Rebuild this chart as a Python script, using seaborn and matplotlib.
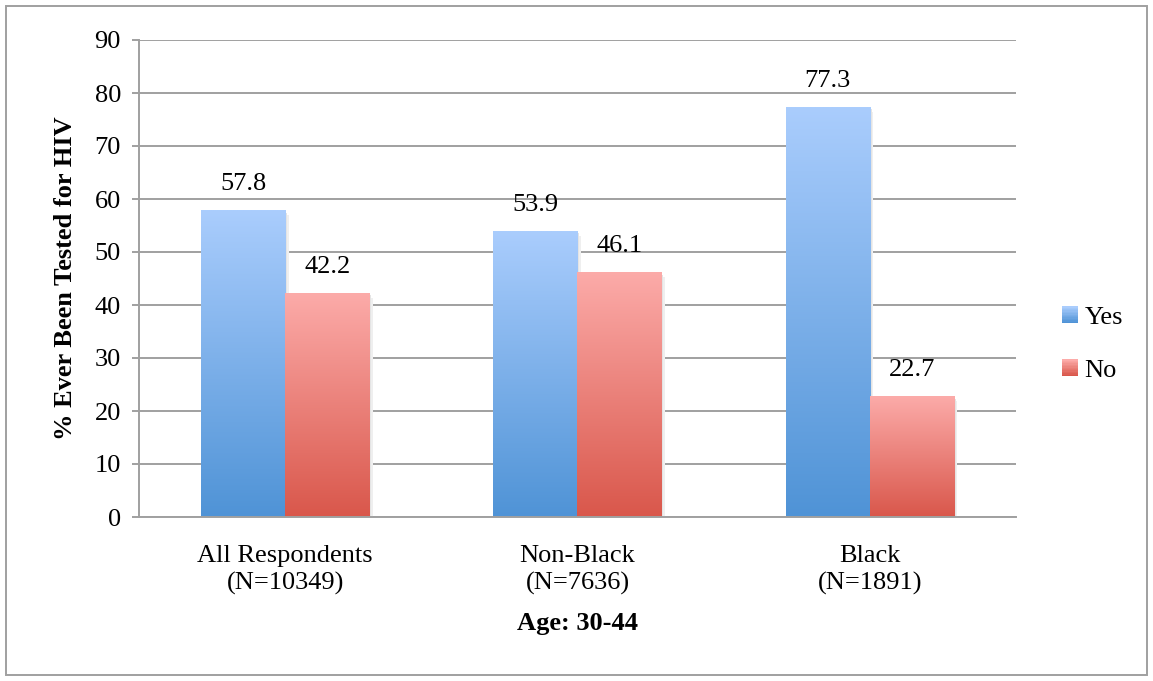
import matplotlib
matplotlib.use("Agg")
import matplotlib.pyplot as plt
import matplotlib.colors as mcolors
import numpy as np
import pandas as pd
import seaborn as sns
from matplotlib.legend_handler import HandlerPatch
from matplotlib.patches import Patch, Rectangle

groups = ["All Respondents\n(N=10349)", "Non-Black\n(N=7636)", "Black\n(N=1891)"]
answers = ["Yes", "No"]
yes_pct = [57.8, 53.9, 77.3]
no_pct = [42.2, 46.1, 22.7]
y_ticks = [0, 10, 20, 30, 40, 50, 60, 70, 80, 90]

# gradient ends (top, bottom) per series
grad = {
    "Yes": ("#aacdfd", "#4f93d6"),
    "No": ("#fcaba9", "#d9574b"),
}

df = pd.DataFrame({
    "group": groups * 2,
    "answer": ["Yes"] * 3 + ["No"] * 3,
    "pct": yes_pct + no_pct,
})


def blend(a, b, t):
    return tuple(np.array(mcolors.to_rgb(a)) * (1 - t) + np.array(mcolors.to_rgb(b)) * t)


class GradientHandler(HandlerPatch):
    """Legend key drawn as a small vertical gradient square."""

    def create_artists(self, legend, orig_handle, xdescent, ydescent, width, height, fontsize, trans):
        top, bot = grad[orig_handle.get_label()]
        n = 12
        arts = []
        for i in range(n):
            r = Rectangle((-xdescent, -ydescent + height * i / n), width, height / n + 0.3,
                          facecolor=blend(bot, top, i / (n - 1)), edgecolor="none", transform=trans)
            arts.append(r)
        return arts


sns.set_theme(style="white")
plt.rcParams["font.family"] = ["Liberation Serif", "DejaVu Serif"]
plt.rcParams["text.color"] = "black"
plt.rcParams["axes.labelcolor"] = "black"
plt.rcParams["xtick.color"] = "black"
plt.rcParams["ytick.color"] = "black"
FS = 19
GRID = "#a0a0a0"

fig = plt.figure(figsize=(11.53, 6.81), dpi=100)
ax = fig.add_axes([139 / 1153, 1 - 517 / 681, (1016 - 139) / 1153, (517 - 40) / 681])

mid = {k: mcolors.to_hex(blend(a, b, 0.5)) for k, (a, b) in grad.items()}
sns.barplot(data=df, x="group", y="pct", hue="answer", hue_order=answers,
            palette=mid, width=0.575, gap=0, ax=ax, legend=False, zorder=2)

ax.set_ylim(0, 90)
xlim = ax.get_xlim()

# replace flat bars by vertical gradients
for cont, ans in zip(ax.containers, answers):
    top, bot = (np.array(mcolors.to_rgb(c)) for c in grad[ans])
    t = np.linspace(0, 1, 256)[:, None, None]
    img = bot * (1 - t) + top * t
    for p in cont.patches:
        x0, y0 = p.get_x(), p.get_y()
        w, h = p.get_width(), p.get_height()
        # soft shadow on the right
        for k, c in enumerate(["#e4e4e4", "#efefef"]):
            off = 0.006 * (k + 1)
            ax.add_patch(Rectangle((x0 + off, y0), w, h - 0.4 * (k + 1), facecolor=c,
                                   edgecolor="none", zorder=1.6 - 0.05 * k))
        ax.imshow(img, extent=[x0, x0 + w, y0, y0 + h], origin="lower",
                  aspect="auto", zorder=2.5, interpolation="bilinear")
        p.set_alpha(0)
    ax.bar_label(cont, fmt="%.1f", padding=11, fontsize=FS, color="black")

ax.set_xlim(xlim)
ax.set_ylim(0, 90)
ax.set_yticks(y_ticks)
ax.yaxis.grid(True, color=GRID, linewidth=1.4, zorder=0)
ax.set_axisbelow(True)
for s in ["top", "right"]:
    ax.spines[s].set_visible(False)
for s in ["left", "bottom"]:
    ax.spines[s].set_color(GRID)
    ax.spines[s].set_linewidth(1.4)

ax.tick_params(axis="y", left=True, length=5, width=1.4, color=GRID, labelsize=FS,
               labelcolor="black", pad=8)
ax.tick_params(axis="x", bottom=False, labelsize=FS, labelcolor="black", pad=14)
for lab in ax.get_xticklabels():
    lab.set_linespacing(1.3)

ax.set_xlabel("Age: 30-44", fontsize=FS, fontweight="bold", labelpad=12, color="black")
ax.set_ylabel("% Ever Been Tested for HIV", fontsize=FS, fontweight="bold", labelpad=13, color="black")

handles = [Patch(facecolor=mid[a], edgecolor="none", label=a) for a in answers]
fig.legend(handles=handles, loc="center left", bbox_to_anchor=(1062 / 1153, 1 - 344 / 681),
           frameon=False, fontsize=FS, handlelength=0.6, handleheight=0.6,
           handletextpad=0.25, labelspacing=1.15, borderpad=0, borderaxespad=0,
           handler_map={Patch: GradientHandler()})

fig.patches.append(Rectangle((6 / 1153, 6 / 681), 1141 / 1153, 669 / 681,
                             transform=fig.transFigure, fill=False,
                             edgecolor="#a0a0a0", linewidth=1.4))

fig.savefig("out.png", dpi=100)
plt.close(fig)
